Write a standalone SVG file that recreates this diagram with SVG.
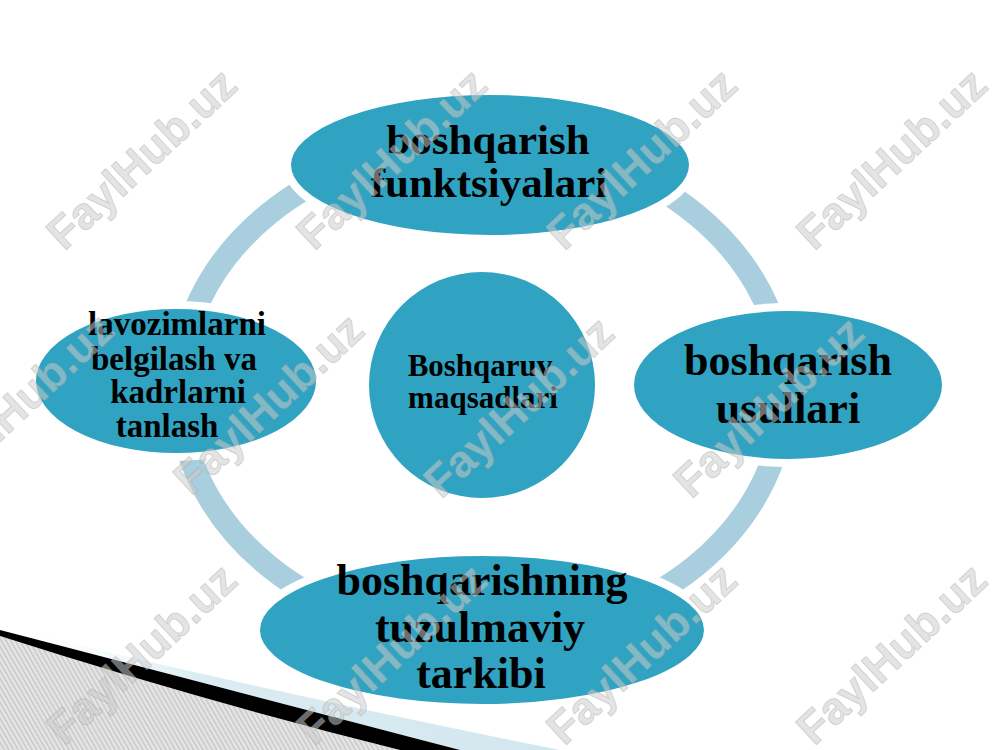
<svg xmlns="http://www.w3.org/2000/svg" width="1000" height="750" viewBox="0 0 1000 750">
  <defs>
    <pattern id="stripes" width="4" height="4" patternUnits="userSpaceOnUse" patternTransform="rotate(-30)">
      <rect width="4" height="4" fill="#e6e6e6"/>
      <rect width="1.6" height="4" fill="#c9c9c9"/>
    </pattern>
    <linearGradient id="paleBand" x1="0" y1="0" x2="1" y2="0">
      <stop offset="0" stop-color="#ffffff" stop-opacity="0"/>
      <stop offset="0.35" stop-color="#dbecf2"/>
      <stop offset="1" stop-color="#d3e7ef"/>
    </linearGradient>
    <style>
      .node { fill: #2fa3c1; stroke: #ffffff; stroke-width: 8; }
      .lbl { font-family: "Liberation Serif", "Times New Roman", serif; font-weight: bold; fill: #000000; text-anchor: middle; }
      .big { font-size: 44px; }
      .top { font-size: 43px; }
      .mid { font-size: 33px; }
      .ctr { font-size: 31px; }
      .ring { fill: none; stroke: #a9cedd; stroke-width: 23; }
      .wm { font-family: "Liberation Sans", Arial, sans-serif; font-weight: bold; font-size: 45px; fill: #cdcdcd; fill-opacity: 0.55; stroke: #9a9a9a; stroke-opacity: 0.35; stroke-width: 1; text-anchor: middle; }
    </style>
  </defs>

  <rect width="1000" height="750" fill="#ffffff"/>

  <!-- bottom-left decoration -->
  <g id="decoration">
    <path d="M0,626 Q250,688 560,750 L460,750 Q250,695 0,630 Z" fill="url(#paleBand)"/>
    <path d="M0,636 Q200,700 400,750 L0,750 Z" fill="url(#stripes)"/>
    <path d="M0,630 Q250,695 460,750 L400,750 Q200,700 0,636 Z" fill="#000000"/>
  </g>

  <!-- connectors: ring -->
  <g id="connectors">
    <ellipse class="ring" cx="482" cy="390" rx="303" ry="248"/>
  </g>

  <g id="node-top">
    <ellipse class="node" cx="490" cy="165" rx="203" ry="74"/>
    <text class="lbl top" x="488" y="154">boshqarish</text>
    <text class="lbl top" x="489" y="197">funktsiyalari</text>
  </g>

  <g id="node-right">
    <ellipse class="node" cx="788" cy="385" rx="158" ry="78"/>
    <text class="lbl big" x="788" y="375">boshqarish</text>
    <text class="lbl big" x="788" y="423">usullari</text>
  </g>

  <g id="node-left">
    <ellipse class="node" cx="176" cy="381" rx="144" ry="76"/>
    <text class="lbl mid" x="177" y="335">lavozimlarni</text>
    <text class="lbl mid" x="174" y="370">belgilash va</text>
    <text class="lbl mid" x="178" y="403">kadrlarni</text>
    <text class="lbl mid" x="167" y="437">tanlash</text>
  </g>

  <g id="node-bottom">
    <ellipse class="node" cx="482" cy="630" rx="226" ry="78"/>
    <text class="lbl big" x="482" y="595">boshqarishning</text>
    <text class="lbl big" x="480" y="642">tuzulmaviy</text>
    <text class="lbl big" x="481" y="688">tarkibi</text>
  </g>

  <g id="node-center">
    <circle cx="482" cy="385" r="113" fill="#2fa3c1"/>
    <text class="lbl ctr" x="480" y="376">Boshqaruv</text>
    <text class="lbl ctr" x="483" y="408">maqsadlari</text>
  </g>

  <!-- watermarks -->
  <g id="watermarks">
    <text class="wm" transform="translate(152,170) rotate(-43)">FaylHub.uz</text>
    <text class="wm" transform="translate(402,170) rotate(-43)">FaylHub.uz</text>
    <text class="wm" transform="translate(652,170) rotate(-43)">FaylHub.uz</text>
    <text class="wm" transform="translate(902,170) rotate(-43)">FaylHub.uz</text>
    <text class="wm" transform="translate(29,415) rotate(-43)">FaylHub.uz</text>
    <text class="wm" transform="translate(279,415) rotate(-43)">FaylHub.uz</text>
    <text class="wm" transform="translate(529,418) rotate(-43)">FaylHub.uz</text>
    <text class="wm" transform="translate(779,418) rotate(-43)">FaylHub.uz</text>
    <text class="wm" transform="translate(152,665) rotate(-43)">FaylHub.uz</text>
    <text class="wm" transform="translate(402,665) rotate(-43)">FaylHub.uz</text>
    <text class="wm" transform="translate(652,665) rotate(-43)">FaylHub.uz</text>
    <text class="wm" transform="translate(902,665) rotate(-43)">FaylHub.uz</text>
  </g>
</svg>
